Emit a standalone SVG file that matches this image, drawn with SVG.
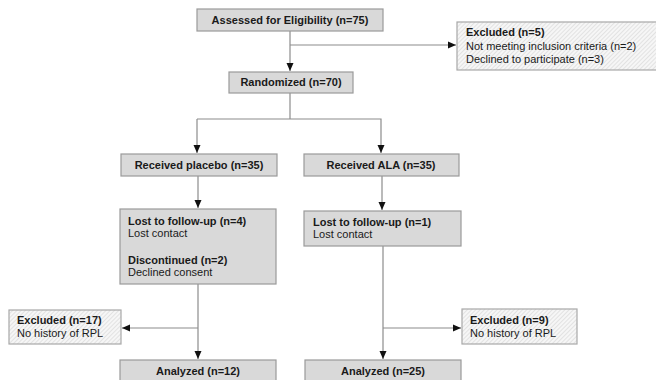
<svg xmlns="http://www.w3.org/2000/svg" width="656" height="380" viewBox="0 0 656 380">
<defs>
<pattern id="hatch" width="3" height="3" patternUnits="userSpaceOnUse" patternTransform="rotate(45)">
<rect width="3" height="3" fill="#f6f6f6"/>
<line x1="0" y1="0" x2="0" y2="3" stroke="#cfcfcf" stroke-width="1"/>
</pattern>
<marker id="arr" viewBox="0 0 8 8" refX="8" refY="4" markerWidth="8" markerHeight="8" markerUnits="userSpaceOnUse" orient="auto">
<path d="M0,0.5 L8,4 L0,7.5 Z" fill="#111"/>
</marker>
</defs>
<style>
.box{fill:#d9d9d9;stroke:#9a9a9a;stroke-width:1.2}
.hbox{fill:url(#hatch);stroke:#a8a8a8;stroke-width:1.2}
.t{font-family:"Liberation Sans",Arial,sans-serif;font-size:11px;fill:#1a1a1a}
.b{font-weight:bold}
.c{text-anchor:middle}
.ln{fill:none;stroke:#8c8c8c;stroke-width:1.2}
</style>
<rect width="656" height="380" fill="#ffffff"/>
<g id="connectors">
<path class="ln" d="M290,31 V71" marker-end="url(#arr)"/>
<path class="ln" d="M290,45 H456" marker-end="url(#arr)"/>
<path class="ln" d="M290,93 V119"/>
<path class="ln" d="M197,119 H381 V153" marker-end="url(#arr)"/>
<path class="ln" d="M197,119 V153" marker-end="url(#arr)"/>
<path class="ln" d="M198,176 V208" marker-end="url(#arr)"/>
<path class="ln" d="M382,176 V210" marker-end="url(#arr)"/>
<path class="ln" d="M198,284 V359" marker-end="url(#arr)"/>
<path class="ln" d="M198,328 H122" marker-end="url(#arr)"/>
<path class="ln" d="M383,246 V359" marker-end="url(#arr)"/>
<path class="ln" d="M383,328 H461" marker-end="url(#arr)"/>
</g>
<g id="assessed">
<rect class="box" x="197" y="9" width="186" height="22"/>
<text class="t b c" x="290" y="24">Assessed for Eligibility (n=75)</text>
</g>
<g id="excluded-top">
<rect class="hbox" x="457" y="22" width="205" height="48"/>
<text class="t b" x="466" y="36">Excluded (n=5)</text>
<text class="t" x="466" y="50">Not meeting inclusion criteria (n=2)</text>
<text class="t" x="466" y="63">Declined to participate (n=3)</text>
</g>
<g id="randomized">
<rect class="box" x="229" y="72" width="124" height="21"/>
<text class="t b c" x="291" y="86">Randomized (n=70)</text>
</g>
<g id="placebo">
<rect class="box" x="121" y="154" width="156" height="22"/>
<text class="t b c" x="199" y="169">Received placebo (n=35)</text>
</g>
<g id="ala">
<rect class="box" x="304" y="154" width="155" height="22"/>
<text class="t b c" x="381" y="169">Received ALA (n=35)</text>
</g>
<g id="lost-placebo">
<rect class="box" x="120" y="209" width="156" height="75"/>
<text class="t b" x="128" y="225">Lost to follow-up (n=4)</text>
<text class="t" x="128" y="237">Lost contact</text>
<text class="t b" x="128" y="264">Discontinued (n=2)</text>
<text class="t" x="128" y="276">Declined consent</text>
</g>
<g id="lost-ala">
<rect class="box" x="304" y="211" width="157" height="35"/>
<text class="t b" x="313" y="226">Lost to follow-up (n=1)</text>
<text class="t" x="313" y="238">Lost contact</text>
</g>
<g id="excluded-placebo">
<rect class="hbox" x="9" y="310" width="112" height="34"/>
<text class="t b" x="17" y="324">Excluded (n=17)</text>
<text class="t" x="17" y="337">No history of RPL</text>
</g>
<g id="excluded-ala">
<rect class="hbox" x="462" y="309" width="115" height="35"/>
<text class="t b" x="470" y="324">Excluded (n=9)</text>
<text class="t" x="470" y="337">No history of RPL</text>
</g>
<g id="analyzed-placebo">
<rect class="box" x="120" y="360" width="156" height="24"/>
<text class="t b c" x="198" y="375">Analyzed (n=12)</text>
</g>
<g id="analyzed-ala">
<rect class="box" x="305" y="360" width="156" height="24"/>
<text class="t b c" x="383" y="375">Analyzed (n=25)</text>
</g>
</svg>
